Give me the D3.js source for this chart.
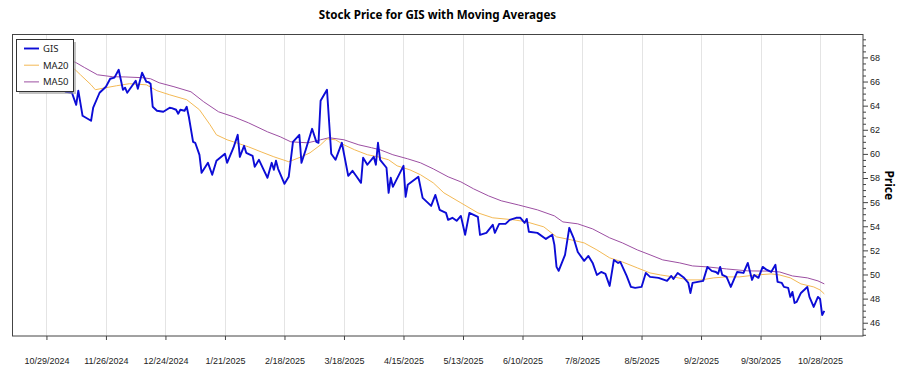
<!DOCTYPE html>
<html>
<head>
<meta charset="utf-8">
<script src="https://cdn.jsdelivr.net/npm/d3@7"></script>
<style>
  body { margin: 0; background: #fff; }
  svg { font-family: "Noto Sans", "Open Sans", sans-serif; }
</style>
</head>
<body>
<script>
'use strict';

// closing prices of GIS
var gisDates = [
  "2024-10-31","2024-11-02","2024-11-04","2024-11-06","2024-11-07","2024-11-10","2024-11-12","2024-11-13",
  "2024-11-15","2024-11-19","2024-11-20","2024-11-23","2024-11-26","2024-11-28","2024-11-30","2024-12-02",
  "2024-12-04","2024-12-05","2024-12-06","2024-12-10","2024-12-11","2024-12-13","2024-12-15","2024-12-16",
  "2024-12-17","2024-12-18","2024-12-20","2024-12-23","2024-12-26","2024-12-27","2024-12-29","2024-12-30",
  "2024-12-31","2025-01-02","2025-01-03","2025-01-04","2025-01-06","2025-01-07","2025-01-09","2025-01-10",
  "2025-01-13","2025-01-15","2025-01-17","2025-01-21","2025-01-22","2025-01-25","2025-01-27","2025-01-28",
  "2025-01-30","2025-01-31","2025-02-03","2025-02-04","2025-02-06","2025-02-08","2025-02-10","2025-02-12",
  "2025-02-13","2025-02-14","2025-02-15","2025-02-18","2025-02-20","2025-02-22","2025-02-25","2025-02-26",
  "2025-02-28","2025-03-03","2025-03-05","2025-03-06","2025-03-07","2025-03-10","2025-03-12","2025-03-14",
  "2025-03-17","2025-03-20","2025-03-22","2025-03-24","2025-03-26","2025-03-27","2025-03-29","2025-04-01",
  "2025-04-02","2025-04-03","2025-04-04","2025-04-07","2025-04-08","2025-04-09","2025-04-10","2025-04-15",
  "2025-04-16","2025-04-17","2025-04-22","2025-04-24","2025-04-28","2025-04-30","2025-05-02","2025-05-05",
  "2025-05-06","2025-05-08","2025-05-10","2025-05-12","2025-05-14","2025-05-16","2025-05-20","2025-05-21",
  "2025-05-24","2025-05-27","2025-05-28","2025-05-30","2025-06-02","2025-06-04","2025-06-07","2025-06-09",
  "2025-06-11","2025-06-12","2025-06-13","2025-06-17","2025-06-21","2025-06-24","2025-06-25","2025-06-26",
  "2025-06-27","2025-06-30","2025-07-02","2025-07-04","2025-07-06","2025-07-09","2025-07-11","2025-07-13",
  "2025-07-15","2025-07-17","2025-07-19","2025-07-21","2025-07-23","2025-07-25","2025-07-26","2025-07-29",
  "2025-07-31","2025-08-02","2025-08-05","2025-08-07","2025-08-09","2025-08-13","2025-08-17","2025-08-19",
  "2025-08-20","2025-08-22","2025-08-25","2025-08-27","2025-08-28","2025-08-29","2025-09-03","2025-09-05",
  "2025-09-07","2025-09-09","2025-09-10","2025-09-11","2025-09-12","2025-09-14","2025-09-16","2025-09-17",
  "2025-09-19","2025-09-22","2025-09-24","2025-09-26","2025-09-27","2025-09-29","2025-10-01","2025-10-03",
  "2025-10-05","2025-10-07","2025-10-08","2025-10-10","2025-10-11","2025-10-13","2025-10-14","2025-10-15",
  "2025-10-16","2025-10-17","2025-10-19","2025-10-21","2025-10-22","2025-10-23","2025-10-25","2025-10-27",
  "2025-10-28","2025-10-29","2025-10-30"
];
var gisClose = [
  66.4,66.1,65.6,65.8,65.15,65.07,64.07,65.24,
  63.16,62.75,63.83,65.07,65.57,66.23,66.32,66.98,
  65.32,65.49,65.07,66.07,65.40,66.73,65.98,65.95,
  65.82,63.91,63.58,63.49,63.83,63.80,63.66,63.33,
  63.66,63.58,63.91,63.08,61.00,60.92,59.92,58.43,
  59.26,58.27,59.43,60.01,59.26,60.51,61.58,59.76,
  60.67,60.09,59.84,58.93,59.51,58.76,58.02,59.26,
  58.68,59.43,58.76,57.52,58.10,61.00,61.58,59.26,
  60.34,62.08,61.00,60.92,64.41,65.32,60.01,59.51,
  60.92,58.18,58.60,58.10,57.60,59.68,59.10,59.76,
  59.10,60.92,59.51,58.85,56.77,58.02,57.27,59.01,
  56.44,57.44,58.10,56.35,55.69,56.60,55.36,55.11,
  54.53,54.70,54.45,54.86,53.29,55.11,54.78,53.29,
  53.45,54.12,53.45,54.20,54.20,54.53,54.70,54.70,
  54.28,54.61,53.54,53.45,52.95,53.29,52.46,50.63,
  50.30,51.63,53.87,53.04,51.87,51.13,51.54,50.96,
  49.96,50.21,50.05,49.05,51.21,50.96,51.04,49.88,
  48.97,48.89,48.97,50.13,49.80,49.72,49.47,49.88,
  49.63,50.13,49.72,49.30,48.47,49.30,49.47,50.63,
  50.30,50.21,50.05,50.63,49.96,49.80,48.97,49.39,
  50.21,50.13,50.96,49.55,49.96,49.72,50.63,50.38,
  50.21,50.80,49.39,49.30,48.97,48.89,48.14,48.56,
  47.64,47.73,48.47,48.80,48.97,48.14,47.31,48.14,
  47.97,46.64,46.98
];

// 20 day moving average
var ma20Dates = [
  "2024-10-31","2024-11-06","2024-11-12","2024-11-14","2024-11-19","2024-11-21","2024-11-26","2024-12-01",
  "2024-12-07","2024-12-15","2024-12-20","2024-12-26","2025-01-03","2025-01-09","2025-01-14","2025-01-17",
  "2025-01-22","2025-01-25","2025-02-01","2025-02-07","2025-02-13","2025-02-20","2025-02-26","2025-03-02",
  "2025-03-07","2025-03-10","2025-03-14","2025-03-18","2025-03-23","2025-03-29","2025-04-03","2025-04-08",
  "2025-04-12","2025-04-18","2025-04-23","2025-04-29","2025-05-04","2025-05-12","2025-05-20","2025-05-27",
  "2025-06-06","2025-06-12","2025-06-20","2025-06-26","2025-07-03","2025-07-09","2025-07-15","2025-07-21",
  "2025-07-27","2025-08-03","2025-08-09","2025-08-14","2025-08-20","2025-08-27","2025-09-02","2025-09-08",
  "2025-09-14","2025-09-20","2025-09-28","2025-10-05","2025-10-09","2025-10-14","2025-10-19","2025-10-25",
  "2025-10-28","2025-10-30"
];
var ma20Values = [
  68.6,67.81,66.90,66.56,65.73,65.32,65.49,65.65,
  65.82,65.73,65.24,64.90,64.49,63.66,62.41,61.58,
  61.17,61.00,60.59,60.17,59.76,59.35,59.76,60.09,
  60.75,61.25,61.17,60.75,60.34,59.93,59.76,59.51,
  59.01,58.68,58.27,57.60,56.77,55.94,55.11,54.70,
  54.53,54.36,53.95,53.12,52.87,52.62,52.04,51.38,
  51.04,50.55,50.13,49.96,49.80,49.55,49.55,49.72,
  49.80,49.80,49.96,50.05,49.96,49.72,49.22,48.97,
  48.72,48.39
];

// 50 day moving average
var ma50Dates = [
  "2024-10-31","2024-11-12","2024-11-16","2024-11-22","2024-11-29","2024-12-05","2024-12-13","2024-12-17",
  "2024-12-21","2024-12-28","2025-01-05","2025-01-11","2025-01-18","2025-01-25","2025-02-01","2025-02-10",
  "2025-02-16","2025-02-21","2025-03-01","2025-03-07","2025-03-11","2025-03-18","2025-03-25","2025-03-31",
  "2025-04-04","2025-04-10","2025-04-17","2025-04-23","2025-04-29","2025-05-06","2025-05-12","2025-05-18",
  "2025-05-25","2025-05-31","2025-06-08","2025-06-17","2025-06-25","2025-06-29","2025-07-06","2025-07-13",
  "2025-07-21","2025-07-27","2025-08-03","2025-08-09","2025-08-15","2025-08-23","2025-08-29","2025-09-05",
  "2025-09-14","2025-09-24","2025-10-03","2025-10-09","2025-10-15","2025-10-22","2025-10-27","2025-10-30"
];
var ma50Values = [
  68.47,67.56,67.15,66.56,66.40,66.38,66.32,66.23,
  65.90,65.57,65.15,64.32,63.49,63.08,62.58,61.83,
  61.42,61.00,60.92,61.17,61.34,61.17,60.75,60.51,
  60.34,59.93,59.59,59.26,58.76,58.10,57.68,57.10,
  56.52,56.11,55.77,55.36,54.86,54.36,54.20,53.78,
  53.04,52.62,52.04,51.63,51.21,50.96,50.71,50.63,
  50.46,50.30,50.28,50.21,49.88,49.72,49.47,49.22
];

var xTickDates = ["2024-10-29","2024-11-26","2024-12-24","2025-01-21","2025-02-18","2025-03-18","2025-04-15",
  "2025-05-13","2025-06-10","2025-07-08","2025-08-05","2025-09-02","2025-09-30","2025-10-28"];
var yTicks = [46, 48, 50, 52, 54, 56, 58, 60, 62, 64, 66, 68];

var seriesNames = ["GIS", "MA20", "MA50"];
var seriesColors = ["#0c0cd6", "#f3b955", "#9c4fa2"];
var seriesWidths = [1.9, 1, 1];

var chartW = 900, chartH = 375;
var plotL = 12, plotT = 34.5, plotR = 863, plotB = 336;

var parse = d3.timeParse("%Y-%m-%d");
var fmt = d3.timeFormat("%-m/%-d/%Y");

function zipSeries(dates, vals) {
  return dates.map(function(d, i){ return { date: parse(d), value: vals[i] }; });
}
var series = [zipSeries(gisDates, gisClose), zipSeries(ma20Dates, ma20Values), zipSeries(ma50Dates, ma50Values)];

// x domain = data range padded 5% each side
var ext = d3.extent(series[0], function(d){ return d.date; });
var pad = (ext[1] - ext[0]) * 0.05;
var x = d3.scaleTime()
  .domain([new Date(+ext[0] - pad), new Date(+ext[1] + pad)])
  .range([plotL, plotR]);
var y = d3.scaleLinear().domain([44.9, 69.9]).range([plotB, plotT]);

var svg = d3.select("body").append("svg")
  .attr("width", chartW)
  .attr("height", chartH);

svg.append("text")
  .attr("x", (plotL + plotR) / 2)
  .attr("y", 19)
  .attr("text-anchor", "middle")
  .style("font-size", "11.6px")
  .style("font-weight", "bold")
  .text("Stock Price for GIS with Moving Averages");

var xTicks = xTickDates.map(parse);

// vertical grid
svg.append("g").selectAll("line")
  .data(xTicks)
  .enter().append("line")
  .attr("x1", function(d){ return Math.round(x(d)) + 0.5; })
  .attr("x2", function(d){ return Math.round(x(d)) + 0.5; })
  .attr("y1", plotT)
  .attr("y2", plotB)
  .attr("stroke", "#e4e4e4")
  .attr("stroke-width", 1);

svg.append("clipPath").attr("id", "plotclip")
  .append("rect")
  .attr("x", plotL).attr("y", plotT)
  .attr("width", plotR - plotL).attr("height", plotB - plotT);

var lineFunction = d3.line()
  .x(function(d){ return x(d.date); })
  .y(function(d){ return y(d.value); });

var linesG = svg.append("g").attr("clip-path", "url(#plotclip)");
// draw MA lines first, then price on top
[2, 1, 0].forEach(function(i){
  linesG.append("path")
    .attr("d", lineFunction(series[i]))
    .attr("fill", "none")
    .attr("stroke", seriesColors[i])
    .attr("stroke-width", seriesWidths[i])
    .attr("stroke-linejoin", "round");
});

// frame
svg.append("rect")
  .attr("x", plotL + 0.5).attr("y", plotT)
  .attr("width", plotR - plotL - 0.5).attr("height", plotB - plotT)
  .attr("fill", "none")
  .attr("stroke", "#444")
  .attr("stroke-width", 1);

// x axis
var xAxis = d3.axisBottom(x)
  .tickValues(xTicks)
  .tickFormat(fmt)
  .tickSize(4)
  .tickSizeOuter(0)
  .tickPadding(18);
var gx = svg.append("g").attr("transform", "translate(0," + plotB + ")").call(xAxis);
gx.select(".domain").remove();
gx.selectAll("line").attr("stroke", "#444");
gx.selectAll("text").style("font-size", "9px").attr("fill", "#222");

// y axis on the right, minor ticks every 0.5
var minorTicks = d3.range(45, 69.9, 0.5).filter(function(v){ return v % 2 !== 0; });
var gyMinor = svg.append("g").attr("transform", "translate(" + plotR + ",0)")
  .call(d3.axisRight(y).tickValues(minorTicks).tickSize(3).tickFormat(""));
gyMinor.select(".domain").remove();
gyMinor.selectAll("line").attr("stroke", "#444");

var gy = svg.append("g").attr("transform", "translate(" + plotR + ",0)")
  .call(d3.axisRight(y).tickValues(yTicks).tickSize(5).tickPadding(2));
gy.select(".domain").remove();
gy.selectAll("line").attr("stroke", "#444");
gy.selectAll("text").style("font-size", "9px").attr("fill", "#222");

svg.append("text")
  .attr("transform", "translate(885," + ((plotT + plotB) / 2) + ") rotate(90)")
  .attr("text-anchor", "middle")
  .style("font-size", "12px")
  .style("font-weight", "bold")
  .text("Price");

// legend
var lg = svg.append("g");
lg.append("rect")
  .attr("x", 19).attr("y", 42).attr("width", 57).attr("height", 52)
  .attr("fill", "#999").attr("opacity", 0.6);
lg.append("rect")
  .attr("x", 16.5).attr("y", 39.5).attr("width", 57).attr("height", 52)
  .attr("fill", "#fff").attr("stroke", "#333").attr("stroke-width", 1);

var items = lg.selectAll("g.item")
  .data(seriesNames)
  .enter().append("g")
  .attr("class", "item")
  .attr("transform", function(d, i){ return "translate(0," + (48.5 + i * 16.7) + ")"; });
items.append("line")
  .attr("x1", 24).attr("x2", 39)
  .attr("stroke", function(d, i){ return seriesColors[i]; })
  .attr("stroke-width", function(d, i){ return seriesWidths[i]; });
items.append("text")
  .attr("x", 43)
  .attr("dy", "0.35em")
  .style("font-size", "9.5px")
  .attr("fill", "#222")
  .text(function(d){ return d; });
</script>
</body>
</html>
